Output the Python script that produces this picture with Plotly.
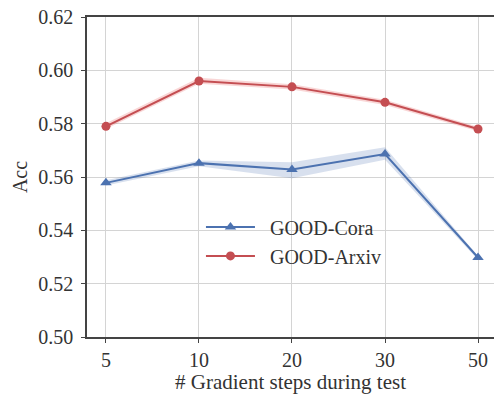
import plotly.graph_objects as go

steps = ["5", "10", "20", "30", "50"]
cora = [0.5578, 0.5652, 0.5628, 0.5686, 0.5298]
cora_lo = [0.5568, 0.5640, 0.5595, 0.5665, 0.5290]
cora_hi = [0.5588, 0.5662, 0.5655, 0.5712, 0.5304]
arxiv = [0.5790, 0.5960, 0.5938, 0.5880, 0.5780]
arxiv_lo = [0.5780, 0.5950, 0.5928, 0.5870, 0.5772]
arxiv_hi = [0.5802, 0.5972, 0.5948, 0.5890, 0.5788]
yticks = [0.50, 0.52, 0.54, 0.56, 0.58, 0.60, 0.62]

blue = "#4C72B0"
red = "#C44E52"
font = "Liberation Serif"
pad = "\u00a0\u00a0"

fig = go.Figure()
for lo, hi, fillc in [(cora_lo, cora_hi, "rgba(76,114,176,0.22)"), (arxiv_lo, arxiv_hi, "rgba(230,90,90,0.25)")]:
    fig.add_trace(go.Scatter(x=steps, y=hi, mode="lines", line=dict(width=0), showlegend=False, hoverinfo="skip"))
    fig.add_trace(go.Scatter(x=steps, y=lo, mode="lines", line=dict(width=0), fill="tonexty",
                             fillcolor=fillc, showlegend=False, hoverinfo="skip"))

fig.add_trace(go.Scatter(x=steps, y=cora, mode="lines+markers", name=pad + "GOOD-Cora",
                         line=dict(color=blue, width=2), marker=dict(symbol="triangle-up", size=10, color=blue)))
fig.add_trace(go.Scatter(x=steps, y=arxiv, mode="lines+markers", name=pad + "GOOD-Arxiv",
                         line=dict(color=red, width=2), marker=dict(symbol="circle", size=9, color=red)))

fig.update_layout(
    width=494, height=394,
    margin=dict(l=87, r=0, t=17, b=57),
    plot_bgcolor="white", paper_bgcolor="white",
    font=dict(family=font, size=20, color="#333333"),
    legend=dict(x=0.28, y=0.405, xanchor="left", yanchor="top", bgcolor="rgba(0,0,0,0)",
                font=dict(size=20), itemwidth=49, tracegroupgap=0, traceorder="normal"),
    showlegend=True,
)
fig.update_xaxes(
    type="category", range=[-0.204, 4.172], automargin=False,
    showgrid=True, gridcolor="#d4d4d4", gridwidth=1,
    showline=True, linecolor="#444444", linewidth=1.5, mirror=True,
    ticks="outside", ticklen=4, tickcolor="#444444", ticklabeloverflow="allow",
    title=dict(text="# Gradient steps during test", font=dict(size=21), standoff=0),
    tickfont=dict(size=20),
)
fig.update_yaxes(
    range=[0.50, 0.62], tickvals=yticks, ticktext=[f"{v:.2f}" for v in yticks], automargin=False,
    showgrid=True, gridcolor="#d4d4d4", gridwidth=1,
    showline=True, linecolor="#444444", linewidth=1.5,
    ticks="outside", ticklen=4, tickcolor="#444444", ticklabelstandoff=4, ticklabeloverflow="allow",
    title=dict(text="Acc", font=dict(size=20), standoff=5),
    tickfont=dict(size=20), zeroline=False,
)
fig.write_html("out.html", config={"displayModeBar": False},
               post_script="document.body.style.margin='0';document.body.style.overflow='hidden';")
